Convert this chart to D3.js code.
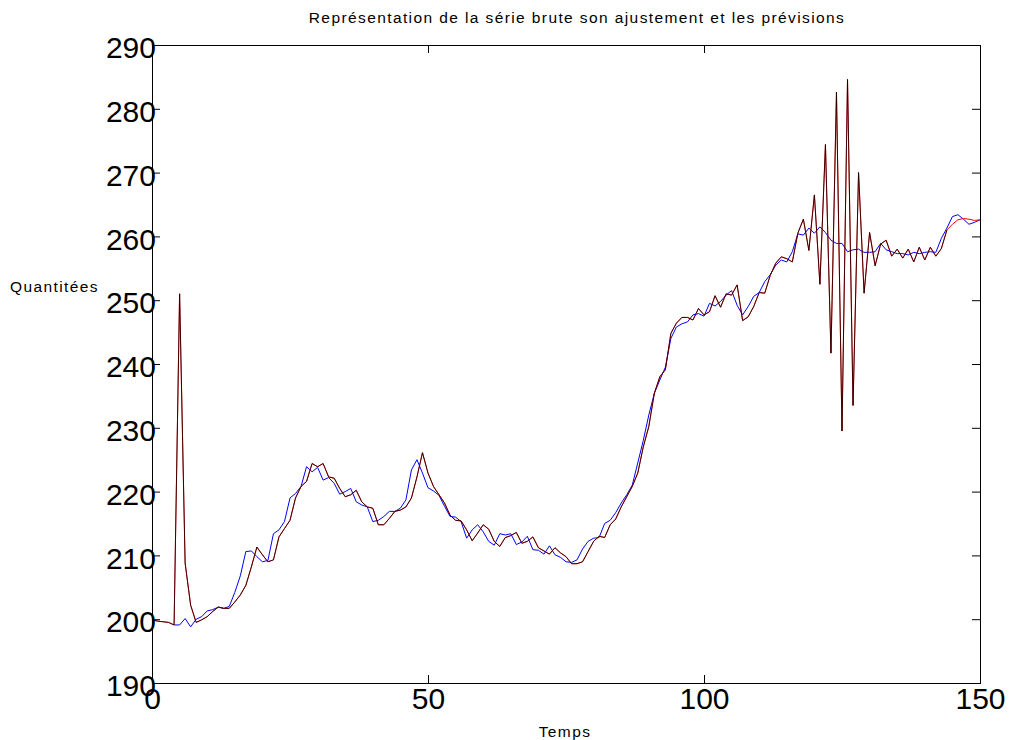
<!DOCTYPE html>
<html>
<head>
<meta charset="utf-8">
<script src="https://cdn.jsdelivr.net/npm/d3@7"></script>
<style>
  html, body { margin: 0; padding: 0; background: #ffffff; }
  svg { display: block; font-family: "Liberation Sans", Arial, Helvetica, sans-serif; }
</style>
</head>
<body>
<svg id="chart" width="1016" height="740"></svg>
<script>
// Raw series (time index starts at debutBrute)
const debutBrute = 0;
const serieBrute = [
  199.9, 199.7, 199.6, 199.5, 199.1, 251.0, 208.8, 202.2, 199.5, 199.9,
  200.4, 201.2, 201.9, 201.7, 201.7, 202.7, 203.8, 205.3, 208.2, 211.3,
  210.1, 209.0, 209.3, 212.9, 214.2, 215.5, 219.0, 220.8, 221.6, 224.4,
  223.9, 224.4, 222.3, 222.1, 220.5, 219.2, 219.5, 220.2, 218.4, 217.6,
  217.4, 214.8, 214.8, 215.8, 216.9, 217.1, 217.6, 219.0, 222.3, 226.1,
  222.9, 220.8, 219.5, 218.2, 216.3, 215.5, 215.4, 214.0, 212.3, 213.5,
  214.8, 214.1, 212.2, 211.4, 212.8, 213.1, 213.6, 211.9, 212.2, 212.9,
  211.2, 210.7, 210.2, 211.2, 210.4, 209.8, 208.7, 208.7, 209.0, 210.6,
  212.2, 213.0, 212.8, 214.8, 215.7, 217.6, 219.2, 220.8, 222.9, 227.0,
  230.2, 235.4, 238.0, 239.1, 244.8, 246.4, 247.3, 247.3, 246.9, 248.7,
  247.7, 248.2, 250.7, 248.9, 251.0, 250.8, 252.4, 246.8, 247.4, 249.0,
  251.2, 251.1, 253.9, 255.8, 256.8, 256.5, 256.0, 260.5, 262.7, 257.8,
  266.5, 252.5, 274.4, 241.7, 282.6, 229.5, 284.6, 233.5, 270.0, 251.1,
  260.6, 255.4, 258.8, 259.4, 256.9, 258.0, 256.6, 258.0, 256.0, 258.3,
  256.3, 258.3, 256.9, 258.1, 261.0
];

// Fitted values (time index starts at debutAjustement)
const debutAjustement = 4;
const ajustement = [
  199.1, 199.1, 200.1, 198.8, 200.0, 200.4, 201.3, 201.5, 201.9, 201.7,
  202.0, 204.2, 206.8, 210.6, 210.7, 209.8, 209.0, 209.2, 213.4, 214.0,
  215.3, 219.0, 219.7, 220.8, 223.9, 223.1, 223.8, 221.8, 222.2, 221.3,
  219.6, 220.0, 220.5, 218.4, 217.9, 217.6, 215.3, 215.5, 216.1, 216.9,
  216.9, 217.4, 218.7, 223.4, 225.0, 222.9, 220.6, 220.1, 219.4, 217.7,
  216.1, 216.0, 215.3, 212.7, 214.0, 214.8, 213.7, 212.2, 211.6, 213.4,
  213.2, 213.4, 211.7, 212.1, 213.0, 210.9, 210.8, 210.2, 211.5, 210.1,
  209.7, 209.0, 208.9, 209.3, 211.0, 212.2, 212.7, 212.8, 215.0, 215.5,
  216.7, 218.2, 219.5, 221.0, 224.5, 228.0, 232.0, 235.4, 237.5, 239.5,
  244.0, 245.8, 246.3, 246.6, 247.7, 247.9, 247.5, 249.5, 249.1, 249.8,
  250.8, 251.5, 249.2, 247.7, 249.0, 250.6, 251.2, 252.9, 254.0, 255.5,
  256.3, 256.0, 257.6, 260.4, 260.2, 261.3, 260.5, 261.5, 260.6, 259.4,
  258.9, 258.9, 257.6, 257.9, 258.0, 257.5, 257.5, 257.6, 258.9, 257.9,
  257.6, 257.3, 257.3, 257.1, 257.5, 257.3, 257.5, 257.6, 257.5, 259.7,
  261.3, 263.1, 263.4, 262.7, 261.9, 262.2, 262.6
];

// Forecasts following the last observed value
const previsions = [261.9, 262.6, 262.8, 262.7, 262.5, 262.6];

// Axis ticks and text
const xTicks = [0, 50, 100, 150];
const yTicks = [190, 200, 210, 220, 230, 240, 250, 260, 270, 280, 290];
const titre = "Représentation de la série brute son ajustement et les prévisions";
const titreX = "Temps";
const titreY = "Quantitées";

const svg = d3.select("#chart");
const W = 1016, H = 740;
const m = { left: 152, right: 36, top: 45, bottom: 57 };
const iw = W - m.left - m.right;   // 828
const ih = H - m.top - m.bottom;   // 638

svg.append("rect").attr("width", W).attr("height", H).attr("fill", "#ffffff");

const x = d3.scaleLinear().domain([0, 150]).range([m.left, m.left + iw]);
const y = d3.scaleLinear().domain([190, 290]).range([m.top + ih, m.top]);

const toPoints = (vals, start) => vals.map((v, i) => ({ t: start + i, v }));
const ptsBrute = toPoints(serieBrute, debutBrute);
const ptsAjust = toPoints(ajustement, debutAjustement);
const ptsRouge = ptsBrute.concat(toPoints(previsions, debutBrute + serieBrute.length));

const line = d3.line().x(d => x(d.t)).y(d => y(d.v));

svg.append("clipPath").attr("id", "zone")
  .append("rect").attr("x", m.left).attr("y", m.top).attr("width", iw).attr("height", ih);

const g = svg.append("g").attr("clip-path", "url(#zone)");
g.append("path").datum(ptsAjust).attr("d", line)
  .attr("fill", "none").attr("stroke", "#0000ff").attr("stroke-width", 1);
g.append("path").datum(ptsRouge).attr("d", line)
  .attr("fill", "none").attr("stroke", "#ff0000").attr("stroke-width", 1);
g.append("path").datum(ptsBrute).attr("d", line)
  .attr("fill", "none").attr("stroke", "#000000").attr("stroke-width", 1)
  .attr("stroke-opacity", 0.75);

// Axes with inward ticks on all four sides
const tickLen = 8;
const styleAxis = sel => {
  sel.select(".domain").remove();
  sel.selectAll(".tick line").attr("stroke", "#000").attr("stroke-width", 1);
  sel.selectAll("text").attr("fill", "#000").attr("font-size", 30)
    .attr("font-family", "'Liberation Sans', Arial, sans-serif");
};

svg.append("g").attr("transform", `translate(0,${m.top + ih})`)
  .call(d3.axisBottom(x).tickValues(xTicks).tickFormat(d3.format("d"))
    .tickSizeInner(-tickLen).tickSizeOuter(0).tickPadding(5))
  .call(styleAxis);

const gy = svg.append("g").attr("transform", `translate(${m.left},0)`)
  .call(d3.axisLeft(y).tickValues(yTicks).tickFormat(d3.format("d"))
    .tickSizeInner(-tickLen).tickSizeOuter(0).tickPadding(-4))
  .call(styleAxis);
gy.selectAll("text").attr("dy", "0.42em");

svg.append("g").attr("transform", `translate(0,${m.top})`)
  .call(d3.axisTop(x).tickValues(xTicks).tickFormat("")
    .tickSizeInner(-tickLen).tickSizeOuter(0))
  .call(styleAxis);

svg.append("g").attr("transform", `translate(${m.left + iw},0)`)
  .call(d3.axisRight(y).tickValues(yTicks).tickFormat("")
    .tickSizeInner(-tickLen).tickSizeOuter(0))
  .call(styleAxis);

// Frame
svg.append("rect").attr("x", m.left).attr("y", m.top).attr("width", iw).attr("height", ih)
  .attr("fill", "none").attr("stroke", "#000").attr("stroke-width", 1)
  .attr("shape-rendering", "crispEdges");

// Titles
const label = (txt, xx, yy, anchor) => svg.append("text")
  .attr("x", xx).attr("y", yy).attr("text-anchor", anchor)
  .attr("font-size", 15.5).attr("letter-spacing", 1.4).attr("fill", "#000").text(txt);
label(titre, 577, 23, "middle");
label(titreX, 565, 737, "middle");
label(titreY, 10, 292, "start");
</script>
</body>
</html>
